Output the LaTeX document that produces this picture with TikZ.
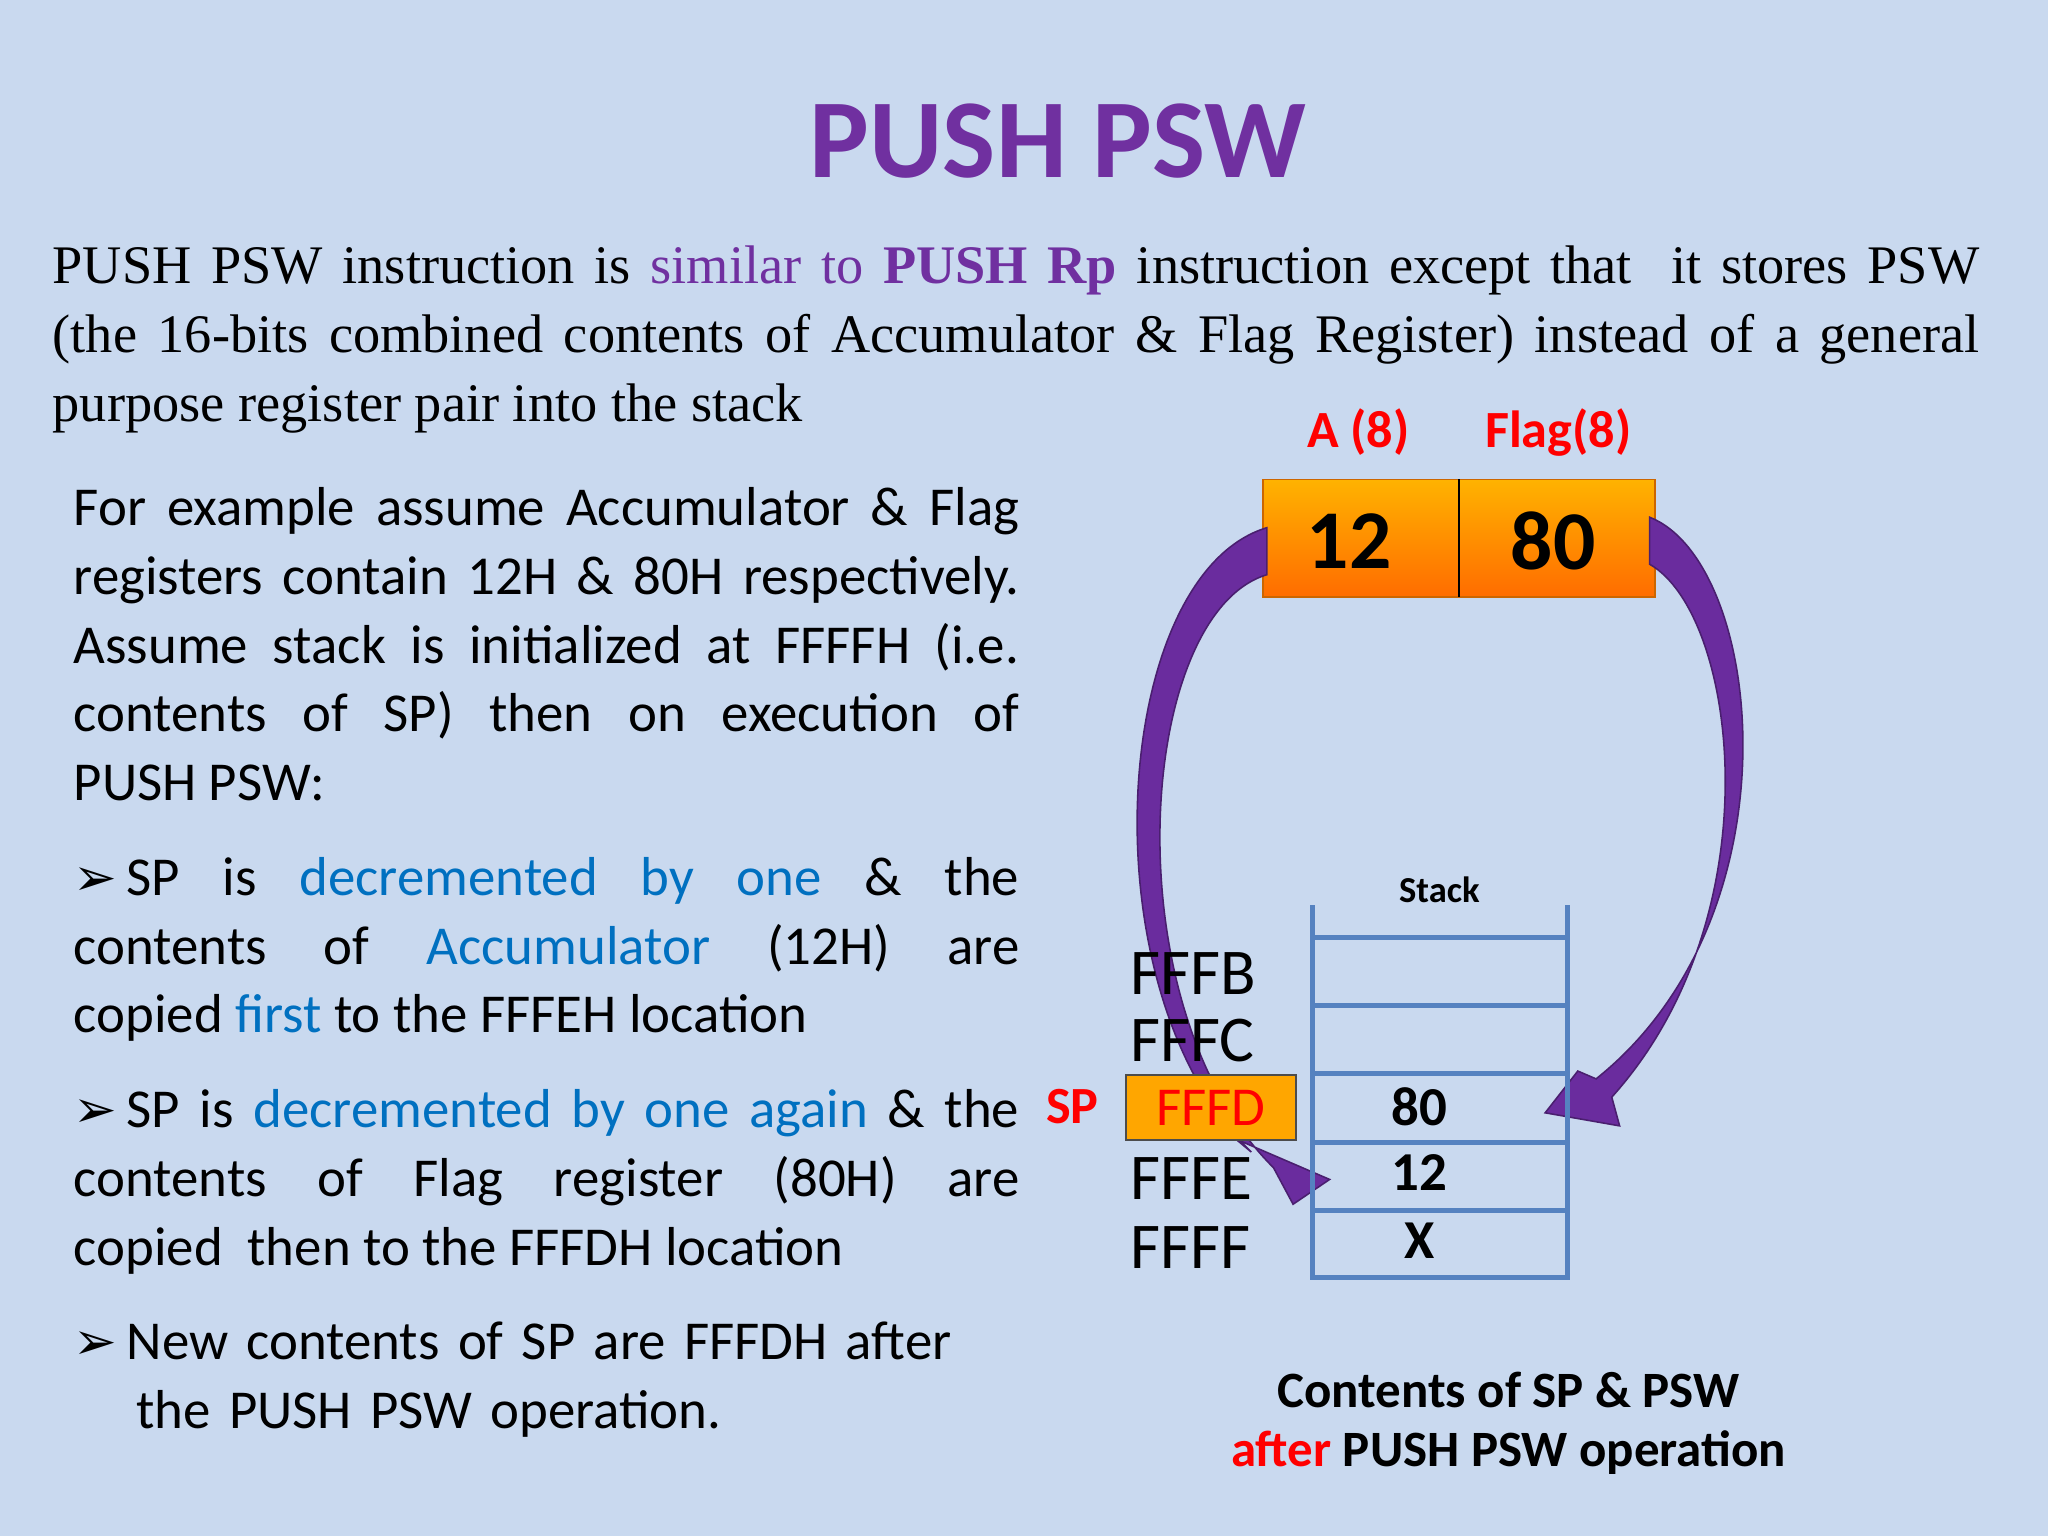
\documentclass[tikz,border=0pt]{standalone}
\usepackage{fontspec}
\setmainfont{Carlito}
\newfontfamily\serifrm{Liberation Serif}
\newfontfamily\dejav{DejaVu Sans}
\definecolor{bgc}{HTML}{C9D9EF}
\definecolor{purp}{HTML}{7030A0}
\definecolor{bluet}{HTML}{0070C0}
\definecolor{stk}{HTML}{5582C0}
\definecolor{arr}{HTML}{6A2C9E}
\tikzset{
 para/.style={anchor=north west,inner sep=0pt,align=justify,font=\fontsize{21}{26.3}\selectfont},
 lbl/.style={anchor=west,inner sep=0pt,font=\fontsize{25}{28}\selectfont},
 stkline/.style={draw=stk,line width=2pt},
 val/.style={inner sep=0pt,font=\bfseries\fontsize{21}{24}\selectfont},
 fatarrow/.style={fill=arr,draw=arr!70!black,line width=0.6pt}
}
\newcommand{\bul}{{\dejav\fontsize{20}{20}\selectfont ➢}\,}
\begin{document}
\begin{tikzpicture}[x=0.5pt,y=-0.5pt]
\fill[bgc] (0,0) rectangle (1568,1176);
\useasboundingbox (0,0) rectangle (1568,1176);
\node[text=purp,font=\bfseries\fontsize{43}{48}\selectfont] (title) at (810,108) {PUSH PSW};
\node[anchor=north west,inner sep=0pt,text width=737.5pt,align=justify,font=\serifrm\fontsize{20.8}{26.3}\selectfont] (intro) at (40,188)
{PUSH PSW instruction is {\color{purp}similar to \textbf{PUSH Rp}} instruction except that~ it stores PSW\linebreak (the 16-bits combined contents of Accumulator \& Flag Register) instead of a general\linebreak purpose register pair into the stack\par};
\node[para,text width=362pt] (p1) at (56,373)
{For example assume Accumulator \& Flag\linebreak registers contain 12H \& 80H respectively.\linebreak Assume stack is initialized at FFFFH (i.e.\linebreak contents of SP) then on execution of\linebreak PUSH PSW:\par};
\node[para,text width=362pt] (p2) at (56,656)
{\bul SP is {\color{bluet}decremented by one} \& the\linebreak contents of {\color{bluet}Accumulator} (12H) are\linebreak copied {\color{bluet}first} to the FFFEH location\par};
\node[para,text width=362pt] (p3) at (56,834)
{\bul SP is {\color{bluet}decremented by one again} \& the\linebreak contents of Flag register (80H) are\linebreak copied~ then to the FFFDH location\par};
\node[para,text width=362pt,align=left] (p4) at (56,1012)
{\bul New contents of SP are FFFDH after\\[0pt]\hspace*{24pt}the PUSH PSW operation.\par};
% register
\node[text=red,font=\bfseries\fontsize{20}{22}\selectfont] (la) at (1040,331) {A (8)};
\node[text=red,font=\bfseries\fontsize{20}{22}\selectfont] (lf) at (1193,331) {Flag(8)};
\shade[top color=orange!60!yellow,bottom color=orange!85!red,draw=orange!80!black,line width=0.6pt] (967,367) rectangle (1267,457);
\draw[line width=1pt] (1117,367) -- (1117,457);
\node[font=\bfseries\fontsize{32}{34}\selectfont] (v12) at (1033,414) {12};
\node[font=\bfseries\fontsize{32}{34}\selectfont] (v80) at (1189,414) {80};
% arrows
\fill[fatarrow] (970,404) .. controls (850,440) and (830,760) .. (958,882)
 -- (946,872) -- (1018,903) -- (990,922) -- (975,894)
 .. controls (850,770) and (870,470) .. (970,440) -- cycle;
\fill[fatarrow] (1263,396) .. controls (1350,430) and (1380,700) .. (1222,826)
 -- (1208,820) -- (1183,852) -- (1240,862) -- (1234,840)
 .. controls (1360,700) and (1330,470) .. (1263,432) -- cycle;
% stack
\node[font=\bfseries\fontsize{14}{16}\selectfont] (stack) at (1102,681) {Stack};
\draw[stkline] (1005,693) -- (1005,980) (1200,693) -- (1200,980);
\foreach \y in {718,770,822,875,927,978} \draw[stkline] (1005,\y) -- (1200,\y);
\node[val] (s80) at (1087,847) {80};
\node[val] (s12) at (1087,898) {12};
\node[val] (sx) at (1087,950) {X};
\node[lbl] (fb) at (865,745) {FFFB};
\node[lbl] (fc) at (865,797) {FFFC};
\node[lbl] (fe) at (865,902) {FFFE};
\node[lbl] (ff) at (865,955) {FFFF};
\node[draw=black!70,line width=0.8pt,fill=orange!70!yellow,minimum width=65pt,minimum height=25pt,inner sep=0pt,text=red,font=\fontsize{21}{22}\selectfont] (fd) at (927,848) {FFFD};
\node[text=red,font=\bfseries\fontsize{20}{22}\selectfont] (sp) at (821,847) {SP};
\node[font=\bfseries\fontsize{19.5}{22}\selectfont] (cap1) at (1155,1064) {Contents of SP \& PSW};
\node[font=\bfseries\fontsize{19.5}{22}\selectfont] (cap2) at (1155,1112) {{\color{red}after} PUSH PSW operation};
\end{tikzpicture}
\end{document}
